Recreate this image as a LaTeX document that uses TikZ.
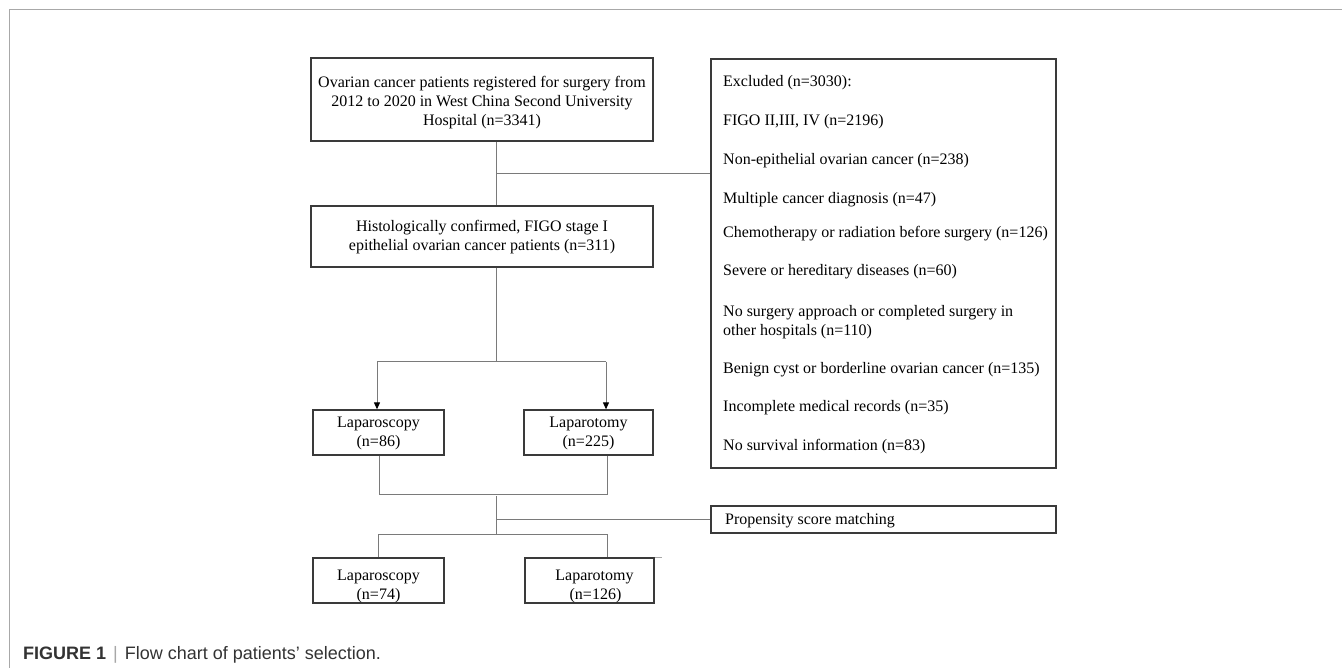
\documentclass[tikz,border=0pt]{standalone}
\usepackage{fontspec}
\setmainfont{Liberation Serif}
\newfontfamily\capfont{Liberation Sans}
\usetikzlibrary{arrows.meta}
\definecolor{boxline}{HTML}{3A3A3A}
\definecolor{conn}{HTML}{7A7A7A}
\definecolor{frame}{HTML}{A8A8A8}
\definecolor{captxt}{HTML}{333333}
\newcommand{\droptext}[2]{\raisebox{-#1}[0pt][0pt]{\begin{tabular}{@{}c@{}}#2\end{tabular}}}
\begin{document}
\begin{tikzpicture}[x=1pt,y=-1pt,
  box/.style={draw=boxline,line width=1.3pt,inner sep=0pt,align=center,
    font=\fontsize{16}{19}\selectfont},
  item/.style={anchor=west,inner sep=0pt,font=\fontsize{16}{19}\selectfont,align=left},
  link/.style={draw=conn,line width=1pt},
  arr/.style={link,-{Triangle[length=7pt,width=6pt,fill=black,color=black]}}]
\useasboundingbox (0,0) rectangle (1342,668);
\fill[white] (0,0) rectangle (1342,668);
% outer frame
\draw[frame,line width=1pt] (9,668) -- (9,10) -- (1342,10);

% boxes
\node[box,minimum width=342pt,minimum height=83pt] (top) at (482,99.5)
  {\droptext{7.5pt}{Ovarian cancer patients registered for surgery from\\2012 to 2020 in West China Second University\\Hospital (n=3341)}};
\node[box,minimum width=342pt,minimum height=61pt] (hist) at (482,236.5)
  {\droptext{5pt}{Histologically confirmed, FIGO stage I\\epithelial ovarian cancer patients (n=311)}};
\node[box,minimum width=131pt,minimum height=45pt] (lapa) at (378.5,432.5)
  {\droptext{5pt}{Laparoscopy\\(n=86)}};
\node[box,minimum width=129pt,minimum height=45pt] (lapb) at (588.5,432.5)
  {\droptext{5pt}{Laparotomy\\(n=225)}};
\node[box,minimum width=131pt,minimum height=45pt] (lapc) at (378.5,580.5)
  {\droptext{10pt}{Laparoscopy\\(n=74)}};
\node[box,minimum width=129pt,minimum height=45pt] (lapd) at (589.5,580.5)
  {\droptext{10pt}{\hspace*{10pt}Laparotomy\\\hspace*{12pt}(n=126)}};
\node[box,minimum width=345pt,minimum height=409pt] (excl) at (883.5,263.5) {};
\node[box,minimum width=345pt,minimum height=27pt] (psm) at (883.5,519.5) {};
\node[item] (psmt) at (725,521) {Propensity score matching};

% exclusion list
\node[item] (e0) at (723,83) {Excluded (n=3030):};
\node[item] (e1) at (723,122) {FIGO II,III, IV (n=2196)};
\node[item] (e2) at (723,161) {Non-epithelial ovarian cancer (n=238)};
\node[item] (e3) at (723,200) {Multiple cancer diagnosis (n=47)};
\node[item] (e4) at (723,234) {Chemotherapy or radiation before surgery (n=126)};
\node[item] (e5) at (723,272) {Severe or hereditary diseases (n=60)};
\node[item] (e6) at (723,322) {No surgery approach or completed surgery in\\other hospitals (n=110)};
\node[item] (e7) at (723,370) {Benign cyst or borderline ovarian cancer (n=135)};
\node[item] (e8) at (723,408) {Incomplete medical records (n=35)};
\node[item] (e9) at (723,447) {No survival information (n=83)};

% junction coordinates
\coordinate (j1) at (496,174);
\coordinate (j2) at (496,362);
\coordinate (a1) at (377,362);
\coordinate (a2) at (606,362);
\coordinate (b1) at (379,494);
\coordinate (b2) at (607,494);
\coordinate (j4) at (496,496);
\coordinate (j5) at (496,534);
\coordinate (c1) at (378,534);
\coordinate (c2) at (607,534);

% connectors
\draw[link] (top.south -| j1) -- (hist.north -| j1);
\draw[link] (j1) -- (excl.west |- j1);
\draw[link] (hist.south -| j2) -- (j2);
\draw[link] (a1) -- (a2);
\draw[arr] (a1) -- (a1 |- lapa.north);
\draw[arr] (a2) -- (a2 |- lapb.north);
\draw[link] (b1 |- lapa.south) -- (b1) -- (b2) -- (b2 |- lapb.south);
\draw[link] (j4) -- (j5);
\draw[link] (j4 |- psm.west) -- (psm.west);
\draw[link] (c1 |- lapc.north) -- (c1) -- (c2) -- (c2 |- lapd.north);
\draw[frame,line width=0.8pt] (lapd.north east) -- ++(7,0);

% caption
\node[anchor=west,inner sep=0pt,text=captxt,font=\capfont\fontsize{18}{21}\selectfont] (cap) at (23,655)
  {\textbf{FIGURE 1}\hspace{7pt}{\color{frame}|}\hspace{7pt}Flow chart of patients’ selection.};
\end{tikzpicture}
\end{document}
